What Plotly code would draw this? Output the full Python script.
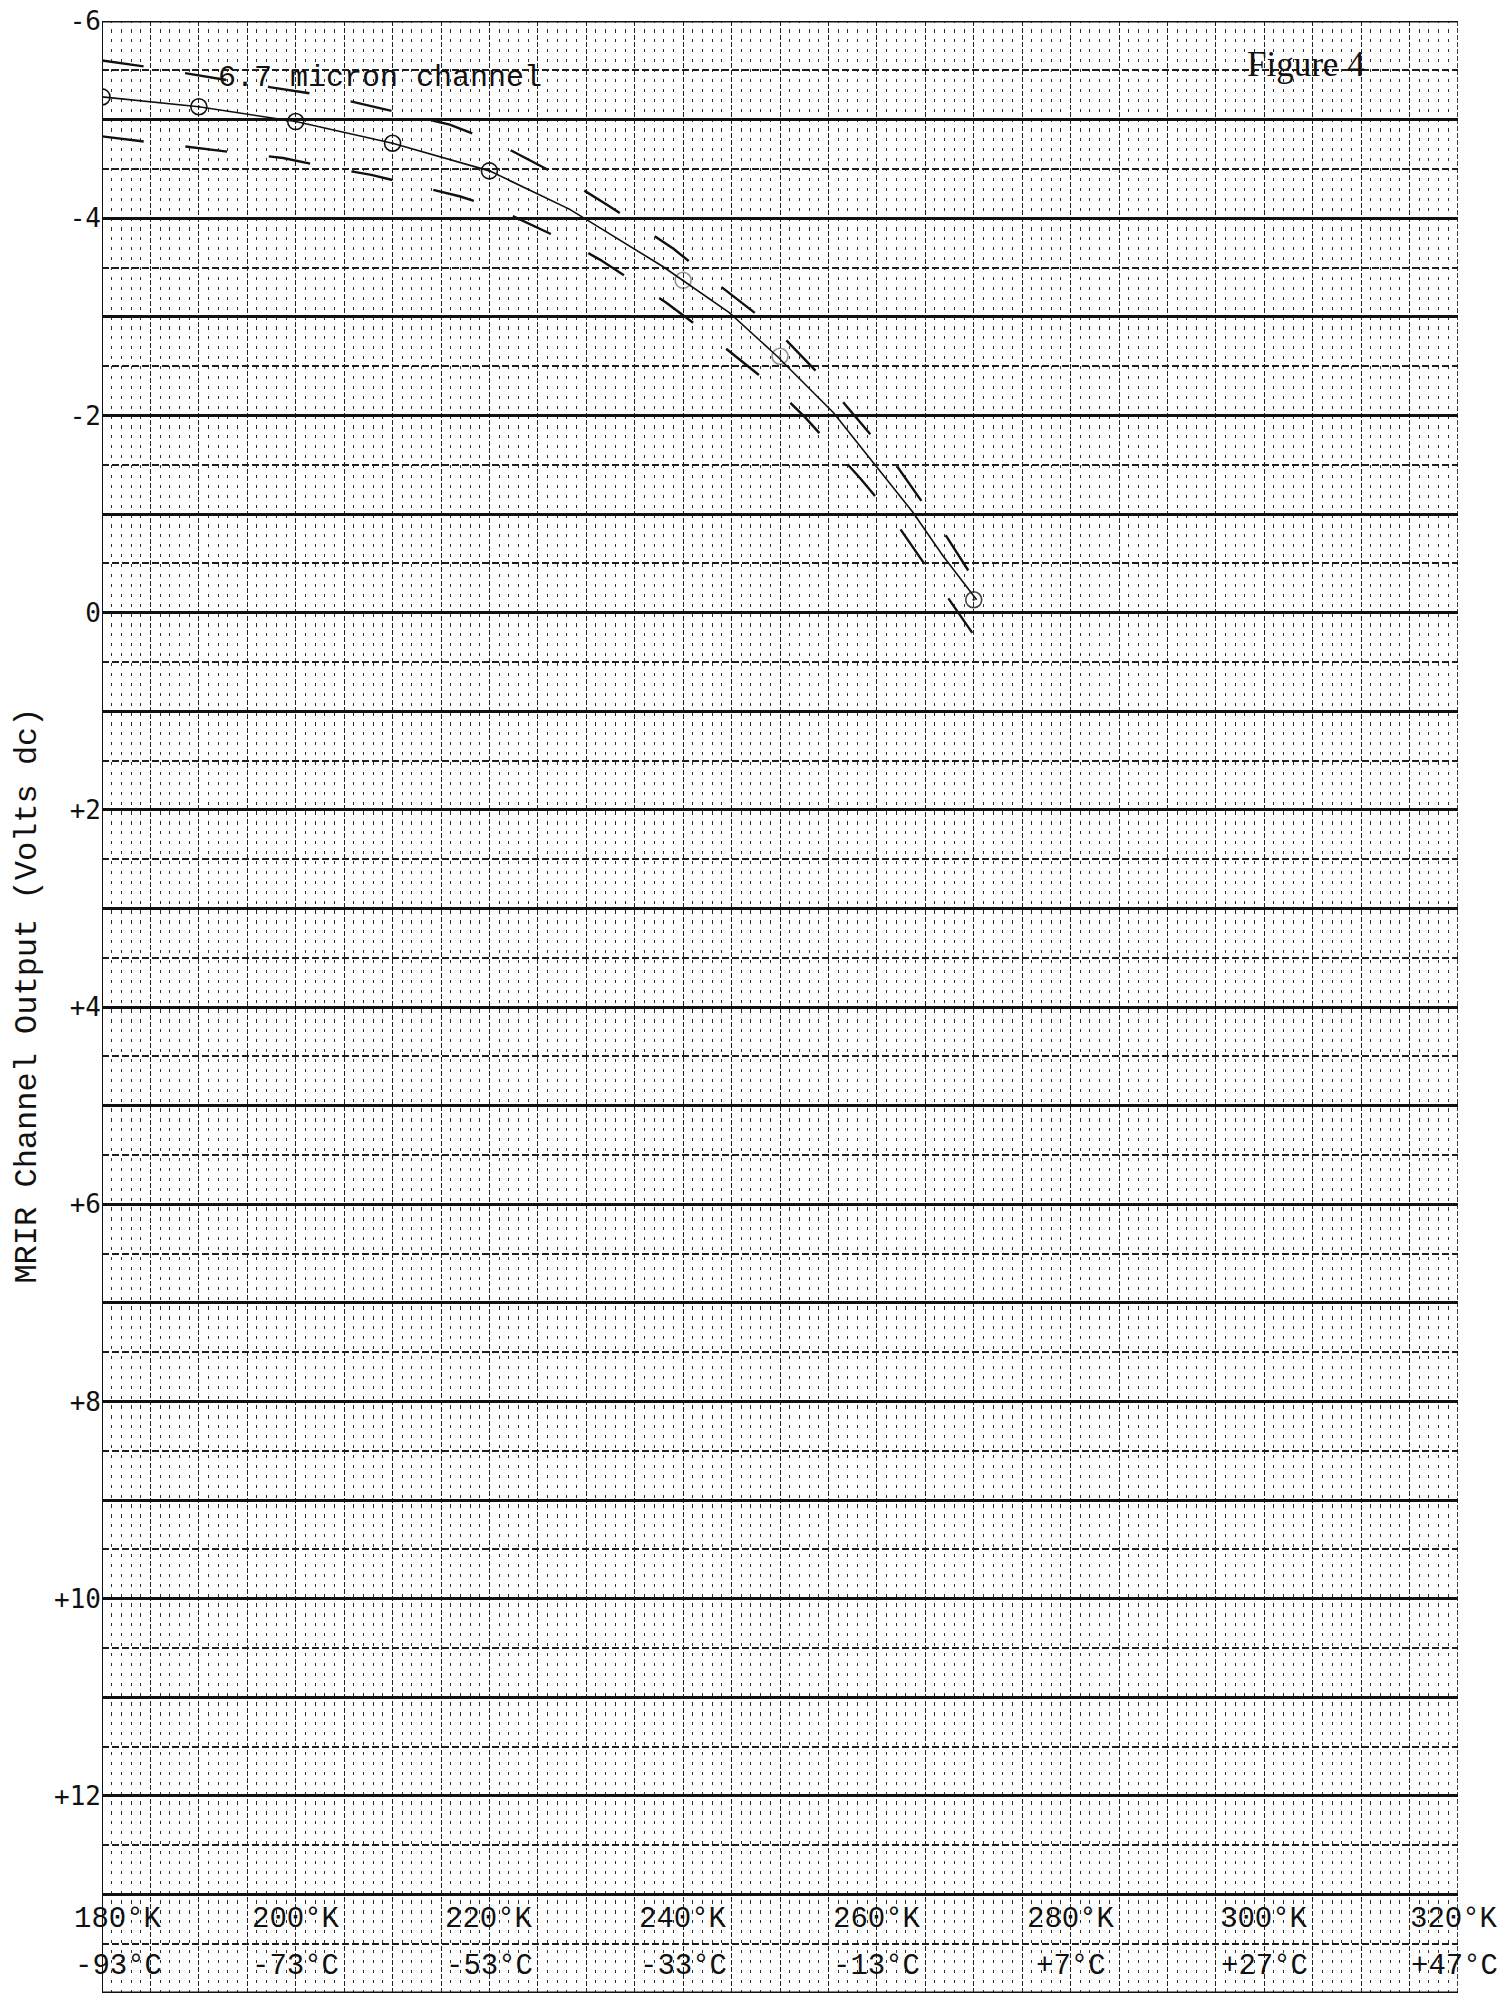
import plotly.graph_objects as go

# ---------------- data ----------------
# central (measured) curve of the 6.7 micron channel
curve_temp_K = [180, 190, 200, 210, 220, 228.3, 237.9, 244.8, 249.7, 255.5, 263.7, 266.8, 270.3]
curve_volts = [-5.23, -5.13, -4.98, -4.76, -4.48, -4.09, -3.51, -3.04, -2.60, -2.03, -1.02, -0.58, -0.13]

# plotted calibration points (circles)
point_temp_K = [180, 190, 200, 210, 220, 240, 250, 270]
point_volts = [-5.23, -5.13, -4.98, -4.76, -4.48, -3.37, -2.60, -0.13]

# upper (dashed) envelope
upper_temp_K = [180.0, 184.3, 197.3, 202.5, 205.9, 211.1, 215.9, 220.8, 227.8, 232.1,
                239.0, 242.8, 249.5, 254.4, 258.3, 261.9, 267.2, 270.4]
upper_volts = [-5.60, -5.54, -5.33, -5.25, -5.18, -5.06, -4.95, -4.76, -4.40, -4.14,
               -3.69, -3.39, -2.88, -2.38, -1.93, -1.51, -0.77, -0.28]

# lower (dashed) envelope
lower_temp_K = [180.0, 183.2, 187.7, 192.5, 198.7, 203.2, 207.8, 212.1, 217.0, 220.7,
                228.5, 231.4, 238.3, 242.1, 249.6, 252.6, 258.3, 261.2, 268.1, 270.8]
lower_volts = [-4.83, -4.79, -4.74, -4.68, -4.61, -4.52, -4.44, -4.34, -4.22, -4.10,
               -3.74, -3.58, -3.14, -2.86, -2.27, -1.98, -1.36, -1.02, -0.04, 0.34]

# axis labels
y_tick_vals = [-6, -4, -2, 0, 2, 4, 6, 8, 10, 12]
y_tick_text = ["-6", "-4", "-2", "0", "+2", "+4", "+6", "+8", "+10", "+12"]
x_label_vals = [180, 200, 220, 240, 260, 280, 300, 320]
x_label_kelvin = ["180°K", "200°K", "220°K", "240°K", "260°K", "280°K", "300°K", "320°K"]
x_label_celsius = ["-93°C", "-73°C", "-53°C", "-33°C", "-13°C", "+7°C", "+27°C", "+47°C"]

X_MIN, X_MAX = 180, 320
Y_TOP, Y_BOTTOM = -6, 14

INK = "#111111"
MONO = "Liberation Mono, Courier New, monospace"
MONO_BOLD = "DejaVu Sans Mono, monospace"

fig = go.Figure()

fig.add_trace(go.Scatter(x=upper_temp_K, y=upper_volts, mode="lines",
                         line=dict(color=INK, width=2.4, dash="42px,42px"),
                         hoverinfo="skip", showlegend=False))
fig.add_trace(go.Scatter(x=lower_temp_K, y=lower_volts, mode="lines",
                         line=dict(color=INK, width=2.4, dash="42px,42px"),
                         hoverinfo="skip", showlegend=False))
fig.add_trace(go.Scatter(x=curve_temp_K, y=curve_volts, mode="lines",
                         line=dict(color=INK, width=1.6),
                         hoverinfo="skip", showlegend=False))
# faint circles at 240 and 250 K in the scan
marker_opacity = [1, 1, 1, 1, 1, 0.45, 0.45, 0.8]
fig.add_trace(go.Scatter(x=point_temp_K, y=point_volts, mode="markers",
                         marker=dict(symbol="circle-open-dot", size=16, color=INK,
                                     opacity=marker_opacity,
                                     line=dict(width=1.6, color=INK)),
                         showlegend=False))

# y-axis tick values at every volt (grid), labels only on even values
y_grid_vals = list(range(Y_TOP, Y_BOTTOM + 1))
label_map = dict(zip(y_tick_vals, y_tick_text))
y_grid_text = [label_map.get(v, "") for v in y_grid_vals]

fig.update_xaxes(
    range=[X_MIN, X_MAX], showticklabels=False, ticks="", zeroline=False,
    showline=False, tickmode="linear", tick0=X_MIN, dtick=5,
    showgrid=True, gridcolor="#222222", gridwidth=1.2, griddash="5px,2px",
    minor=dict(tickmode="linear", tick0=X_MIN, dtick=1, showgrid=True,
               gridcolor="#2e2e2e", gridwidth=1.3, griddash="1.6px,6.7px,1.6px,0px"),
)
fig.update_yaxes(
    range=[Y_BOTTOM, Y_TOP], autorange=False, zeroline=False, showline=False,
    tickmode="array", tickvals=y_grid_vals, ticktext=y_grid_text,
    ticks="", tickfont=dict(family=MONO_BOLD, size=26, color=INK),
    ticklabeloverflow="allow",
    showgrid=True, gridcolor="#111111", gridwidth=2.6,
    minor=dict(tickmode="linear", tick0=Y_TOP, dtick=0.5, showgrid=True,
               gridcolor="#1e1e1e", gridwidth=1.5, griddash="7px,3px"),
)

# frame of the graph paper
fig.add_shape(type="line", xref="x", yref="y", x0=X_MIN, x1=X_MIN, y0=Y_TOP, y1=Y_BOTTOM,
              line=dict(color=INK, width=2), layer="above")
fig.add_shape(type="line", xref="x", yref="y", x0=X_MAX, x1=X_MAX, y0=Y_TOP, y1=Y_BOTTOM,
              line=dict(color=INK, width=1.6, dash="5px,2px"), layer="above")
fig.add_shape(type="line", xref="x", yref="y", x0=X_MIN, x1=X_MAX, y0=Y_TOP, y1=Y_TOP,
              line=dict(color=INK, width=3), layer="above")
fig.add_shape(type="line", xref="x", yref="y", x0=X_MIN, x1=X_MAX, y0=Y_BOTTOM, y1=Y_BOTTOM,
              line=dict(color=INK, width=3), layer="above")

annotations = []
# temperature labels typed in the bottom band of the paper
for i, (xv, kt, ct) in enumerate(zip(x_label_vals, x_label_kelvin, x_label_celsius)):
    shift = 16 if i == 0 else (-4 if i == len(x_label_vals) - 1 else 0)
    annotations.append(dict(x=xv, y=13.25, xref="x", yref="y", text=kt, showarrow=False,
                            xanchor="center", yanchor="middle", xshift=shift,
                            font=dict(family=MONO, size=29, color=INK)))
    annotations.append(dict(x=xv, y=13.73, xref="x", yref="y", text=ct, showarrow=False,
                            xanchor="center", yanchor="middle", xshift=shift,
                            font=dict(family=MONO, size=29, color=INK)))

annotations.append(dict(x=208.7, y=-5.42, xref="x", yref="y", text="6.7 micron channel",
                        showarrow=False, xanchor="center", yanchor="middle",
                        font=dict(family=MONO, size=30, color=INK)))
annotations.append(dict(x=304.3, y=-5.56, xref="x", yref="y", text="Figure 4",
                        showarrow=False, xanchor="center", yanchor="middle",
                        font=dict(family="Liberation Serif, serif", size=35, color=INK)))
annotations.append(dict(x=-0.055, y=0.506, xref="paper", yref="paper",
                        text="MRIR Channel Output (Volts dc)", textangle=-90,
                        showarrow=False, xanchor="center", yanchor="middle",
                        font=dict(family=MONO, size=32, color=INK)))

fig.update_layout(
    width=1511, height=1999,
    margin=dict(l=102, r=53, t=14, b=6),
    paper_bgcolor="white", plot_bgcolor="white",
    annotations=annotations,
    showlegend=False,
)

fig.write_html("out.html", config={"displayModeBar": False})
